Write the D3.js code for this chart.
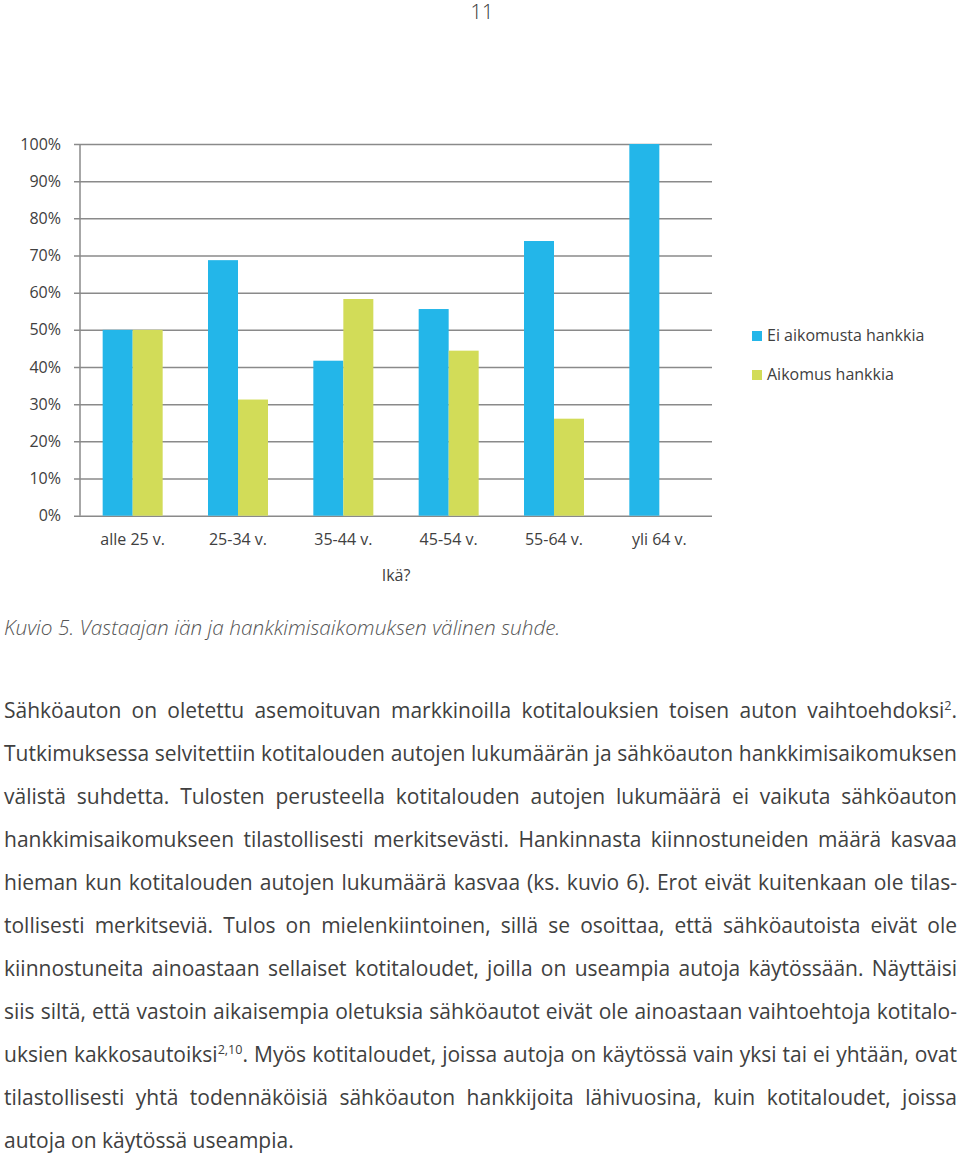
<!DOCTYPE html>
<html><head><meta charset="utf-8">
<script src="https://cdn.jsdelivr.net/npm/d3@7"></script>
<style>
html,body{margin:0;padding:0;background:#fff;}
svg{display:block;font-family:"Open Sans","Noto Sans",sans-serif;}
</style></head>
<body>
<svg id="c" width="960" height="1154"></svg>
<script>
const categories = ["alle 25 v.","25-34 v.","35-44 v.","45-54 v.","55-64 v.","yli 64 v."];
const seriesNames = ["Ei aikomusta hankkia","Aikomus hankkia"];
const eiAikomusta = [0.50,0.6875,0.417,0.556,0.739,1.00];
const aikomus = [0.50,0.3125,0.583,0.444,0.261,0.00];
const yTicks = [0,0.1,0.2,0.3,0.4,0.5,0.6,0.7,0.8,0.9,1.0];
const colors = ["#23b6e9","#d2dc58"];
const axisTitle = "Ikä?";
const caption = "Kuvio 5. Vastaajan iän ja hankkimisaikomuksen välinen suhde.";
const pageNumber = "11";
const paragraphLines = [
 "Sähköauton on oletettu asemoituvan markkinoilla kotitalouksien toisen auton vaihtoehdoksi^{2}.",
 "Tutkimuksessa selvitettiin kotitalouden autojen lukumäärän ja sähköauton hankkimisaikomuksen",
 "välistä suhdetta. Tulosten perusteella kotitalouden autojen lukumäärä ei vaikuta sähköauton",
 "hankkimisaikomukseen tilastollisesti merkitsevästi. Hankinnasta kiinnostuneiden määrä kasvaa",
 "hieman kun kotitalouden autojen lukumäärä kasvaa (ks. kuvio 6). Erot eivät kuitenkaan ole tilas-",
 "tollisesti merkitseviä. Tulos on mielenkiintoinen, sillä se osoittaa, että sähköautoista eivät ole",
 "kiinnostuneita ainoastaan sellaiset kotitaloudet, joilla on useampia autoja käytössään. Näyttäisi",
 "siis siltä, että vastoin aikaisempia oletuksia sähköautot eivät ole ainoastaan vaihtoehtoja kotitalo-",
 "uksien kakkosautoiksi^{2,10}. Myös kotitaloudet, joissa autoja on käytössä vain yksi tai ei yhtään, ovat",
 "tilastollisesti yhtä todennäköisiä sähköauton hankkijoita lähivuosina, kuin kotitaloudet, joissa",
 "autoja on käytössä useampia."
];

(function(){
const svg = d3.select("#c");
const pL = 80, pR = 712, pT = 144, pB = 515.7;
const textCol = "#404040";
const ff = '"Open Sans","Noto Sans",sans-serif';

// page number
svg.append("text").attr("x",482).attr("y",19).attr("text-anchor","middle")
  .attr("font-size",20).attr("font-weight",300).attr("fill","#333").text(pageNumber);

const y = d3.scaleLinear().domain([0,1]).range([pB, pT]);
const x = d3.scaleBand().domain(categories).range([pL, pR]).padding(0);
const barW = 30;
const xs = d3.scaleBand().domain(seriesNames).range([x.bandwidth()/2 - barW, x.bandwidth()/2 + barW]);

// gridlines + y labels via axis
const gAxis = svg.append("g").attr("transform",`translate(${pR},0)`)
  .call(d3.axisLeft(y).tickValues(yTicks).tickFormat(d3.format(".0%")).tickSize(pR-74).tickPadding(13));
gAxis.select(".domain").remove();
gAxis.selectAll(".tick line").attr("stroke","#8a8a8a").attr("stroke-width",1.5);
gAxis.selectAll(".tick text").attr("font-size",16).attr("fill",textCol).attr("font-family",ff);

// bars
const data = categories.map((c,i)=>({cat:c, vals:[eiAikomusta[i], aikomus[i]]}));
const groups = svg.append("g").selectAll("g").data(data).join("g")
  .attr("transform", d=>`translate(${x(d.cat)},0)`);
groups.selectAll("rect").data(d=>d.vals.map((v,j)=>({v, s:seriesNames[j], j})))
  .join("rect")
  .attr("x", d=>xs(d.s)).attr("width", xs.bandwidth())
  .attr("y", d=>y(d.v)).attr("height", d=>y(0)-y(d.v))
  .attr("fill", d=>colors[d.j]);

// vertical axis line
svg.append("line").attr("x1",pL).attr("x2",pL).attr("y1",pT).attr("y2",pB)
  .attr("stroke","#8a8a8a").attr("stroke-width",1.5);

// x axis labels
const gx = svg.append("g").attr("transform",`translate(0,${pB})`)
  .call(d3.axisBottom(x).tickSize(0).tickPadding(18));
gx.select(".domain").remove();
gx.selectAll(".tick text").attr("font-size",16).attr("fill",textCol).attr("font-family",ff);

// axis title
svg.append("text").attr("x",(pL+pR)/2).attr("y",581).attr("text-anchor","middle")
  .attr("font-size",16).attr("fill",textCol).text(axisTitle);

// legend
const leg = svg.append("g").selectAll("g").data(seriesNames).join("g")
  .attr("transform",(d,i)=>`translate(752,${331 + i*39})`);
leg.append("rect").attr("width",10).attr("height",10).attr("fill",(d,i)=>colors[i]);
leg.append("text").attr("x",15).attr("y",10).attr("font-size",16).attr("fill",textCol).text(d=>d);

// caption
svg.append("text").attr("x",4).attr("y",635).attr("font-size",20.8).attr("font-style","italic")
  .attr("font-weight",300).attr("fill","#555").text(caption);

// paragraph, justified
const tL = 4, tR = 957, base0 = 718, lh = 43;
const pg = svg.append("g");
function layout(pFont){
  pg.selectAll("*").remove();
  let minGap = Infinity;
  paragraphLines.forEach((line, li) => {
    const words = line.split(" ");
    const by = base0 + li*lh;
    const nodes = words.map(w => {
      const t = pg.append("text").attr("y",by).attr("font-size",pFont).attr("fill",textCol);
      const m = w.match(/^(.*)\^\{(.*)\}(.*)$/);
      if (m) {
        t.append("tspan").text(m[1]);
        t.append("tspan").attr("font-size",pFont*0.6).attr("dy",-8).text(m[2]);
        t.append("tspan").attr("dy",8).text(m[3]);
      } else t.text(w);
      return t;
    });
    const widths = nodes.map(n => n.node().getComputedTextLength());
    const total = d3.sum(widths);
    const last = li === paragraphLines.length - 1;
    const gap = last ? pFont*0.26 : (tR - tL - total)/(words.length-1);
    if (!last) minGap = Math.min(minGap, gap);
    let cx = tL;
    nodes.forEach((n,i)=>{ n.attr("x", cx); cx += widths[i] + gap; });
  });
  return minGap;
}
let fs = 21;
while (layout(fs) < fs*0.24 && fs > 17) fs -= 0.2;
})();
</script>
</body></html>
